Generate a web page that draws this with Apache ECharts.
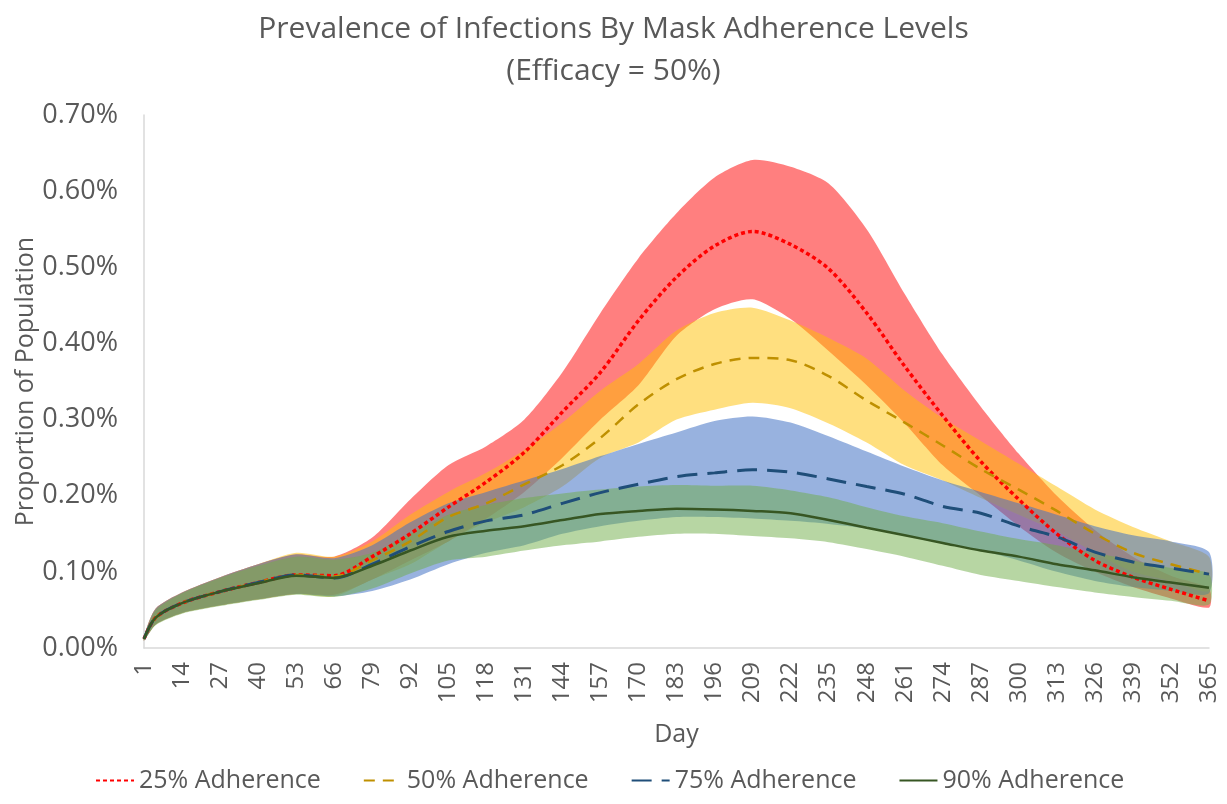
<!DOCTYPE html>
<html>
<head>
<meta charset="utf-8">
<script src="https://cdn.jsdelivr.net/npm/echarts@6/dist/echarts.min.js"></script>
<style>
  html, body { margin: 0; padding: 0; background: #fff; }
  #chart { width: 1227px; height: 804px; }
</style>
</head>
<body>
<div id="chart"></div>
<script>
// sampled days (x) and tick labels
const days = [1, 5, 14, 27, 40, 53, 66, 79, 92, 105, 118, 131, 144, 157, 170, 183, 196, 209, 222, 235, 248, 261, 274, 287, 300, 313, 326, 339, 352, 365]
const dayTicks = [1, 14, 27, 40, 53, 66, 79, 92, 105, 118, 131, 144, 157, 170, 183, 196, 209, 222, 235, 248, 261, 274, 287, 300, 313, 326, 339, 352, 365]

// values in percent of population
const mean25 = [0.012, 0.040, 0.059, 0.074, 0.086, 0.096, 0.095, 0.120, 0.150, 0.185, 0.218, 0.257, 0.310, 0.362, 0.430, 0.487, 0.528, 0.547, 0.530, 0.498, 0.440, 0.370, 0.305, 0.245, 0.195, 0.150, 0.115, 0.093, 0.077, 0.062]
const high25 = [0.016, 0.052, 0.073, 0.093, 0.110, 0.123, 0.120, 0.145, 0.195, 0.240, 0.265, 0.300, 0.362, 0.440, 0.512, 0.571, 0.618, 0.641, 0.632, 0.610, 0.550, 0.465, 0.385, 0.317, 0.255, 0.200, 0.155, 0.120, 0.095, 0.078]
const low25 = [0.010, 0.031, 0.046, 0.056, 0.064, 0.071, 0.070, 0.090, 0.115, 0.140, 0.170, 0.205, 0.250, 0.300, 0.345, 0.410, 0.445, 0.458, 0.432, 0.390, 0.345, 0.295, 0.240, 0.200, 0.160, 0.125, 0.100, 0.080, 0.065, 0.053]

const mean50 = [0.012, 0.040, 0.059, 0.074, 0.086, 0.096, 0.094, 0.115, 0.140, 0.172, 0.190, 0.215, 0.240, 0.276, 0.320, 0.353, 0.373, 0.381, 0.378, 0.357, 0.325, 0.296, 0.266, 0.235, 0.208, 0.180, 0.150, 0.125, 0.110, 0.097]
const high50 = [0.016, 0.052, 0.073, 0.093, 0.110, 0.125, 0.120, 0.140, 0.175, 0.205, 0.230, 0.260, 0.296, 0.338, 0.373, 0.417, 0.440, 0.447, 0.430, 0.407, 0.380, 0.338, 0.302, 0.272, 0.242, 0.212, 0.182, 0.159, 0.140, 0.120]
const low50 = [0.010, 0.031, 0.046, 0.056, 0.064, 0.071, 0.068, 0.090, 0.110, 0.140, 0.165, 0.185, 0.212, 0.250, 0.270, 0.300, 0.313, 0.322, 0.315, 0.295, 0.270, 0.240, 0.220, 0.197, 0.175, 0.153, 0.125, 0.100, 0.088, 0.075]

const mean75 = [0.012, 0.040, 0.059, 0.074, 0.086, 0.096, 0.092, 0.110, 0.133, 0.153, 0.167, 0.175, 0.190, 0.204, 0.215, 0.225, 0.230, 0.234, 0.231, 0.222, 0.212, 0.202, 0.186, 0.177, 0.160, 0.146, 0.126, 0.113, 0.105, 0.097]
const high75 = [0.016, 0.052, 0.073, 0.093, 0.110, 0.123, 0.118, 0.135, 0.165, 0.190, 0.205, 0.220, 0.235, 0.252, 0.268, 0.283, 0.298, 0.304, 0.296, 0.278, 0.258, 0.238, 0.220, 0.205, 0.190, 0.175, 0.160, 0.148, 0.140, 0.126]
const low75 = [0.010, 0.031, 0.046, 0.056, 0.064, 0.071, 0.068, 0.075, 0.090, 0.110, 0.125, 0.135, 0.150, 0.160, 0.167, 0.172, 0.172, 0.170, 0.167, 0.163, 0.157, 0.148, 0.138, 0.128, 0.115, 0.100, 0.088, 0.080, 0.075, 0.072]

const mean90 = [0.012, 0.040, 0.059, 0.074, 0.085, 0.095, 0.092, 0.108, 0.128, 0.146, 0.154, 0.160, 0.168, 0.176, 0.180, 0.183, 0.182, 0.180, 0.177, 0.168, 0.158, 0.148, 0.138, 0.128, 0.120, 0.110, 0.102, 0.093, 0.086, 0.079]
const high90 = [0.016, 0.050, 0.072, 0.092, 0.108, 0.120, 0.116, 0.125, 0.150, 0.175, 0.188, 0.197, 0.203, 0.208, 0.212, 0.214, 0.213, 0.213, 0.207, 0.198, 0.185, 0.173, 0.164, 0.153, 0.143, 0.135, 0.125, 0.115, 0.105, 0.097]
const low90 = [0.010, 0.030, 0.045, 0.055, 0.063, 0.070, 0.067, 0.078, 0.098, 0.115, 0.120, 0.128, 0.135, 0.140, 0.146, 0.150, 0.150, 0.147, 0.144, 0.139, 0.130, 0.120, 0.108, 0.096, 0.088, 0.080, 0.073, 0.067, 0.062, 0.057]

const FONT = 'Open Sans'
const GREY = '#595959'

const pairs = (vals) => days.map((d, i) => [d, vals[i]])

// shaded range between low and high, drawn as one polygon through the axes
function band(hi, lo, fill) {
  return {
    type: 'custom',
    silent: true,
    data: [[days[0], hi[0]]],
    encode: { x: 0, y: 1 },
    renderItem: (params, api) => {
      const top = days.map((d, i) => api.coord([d, hi[i]]))
      const bottom = days.map((d, i) => api.coord([d, lo[i]])).reverse()
      return {
        type: 'polygon',
        shape: { points: top.concat(bottom), smooth: 0.25 },
        style: { fill: fill },
      }
    },
  }
}

function meanLine(name, vals, color, type, width) {
  return {
    name: name, type: 'line', data: pairs(vals), smooth: 0.3, symbol: 'none',
    lineStyle: { color: color, type: type, width: width },
    itemStyle: { color: color },
  }
}

const chart = echarts.init(document.getElementById('chart'))
chart.setOption({
  animation: false,
  title: {
    text: 'Prevalence of Infections By Mask Adherence Levels\n(Efficacy = 50%)',
    left: 'center',
    top: 3,
    textStyle: { fontFamily: FONT, fontSize: 30, fontWeight: 'normal', color: GREY, lineHeight: 42 },
  },
  grid: { left: 144, right: 18, top: 115, bottom: 156, outerBoundsMode: 'none' },
  legend: {
    bottom: 6,
    left: 90,
    data: ['25% Adherence', '50% Adherence', '75% Adherence', '90% Adherence'],
    itemWidth: 38,
    itemHeight: 10,
    itemGap: 42,
    itemStyle: { opacity: 0 },
    textStyle: { fontFamily: FONT, fontSize: 25, color: GREY },
  },
  xAxis: {
    type: 'value',
    min: 1,
    max: 365,
    name: 'Day',
    nameLocation: 'middle',
    nameGap: 74,
    nameMoveOverlap: false,
    nameTextStyle: { fontFamily: FONT, fontSize: 25, color: GREY },
    splitLine: { show: false },
    axisLine: { lineStyle: { color: '#D9D9D9', width: 1.5 } },
    axisTick: { show: false },
    axisLabel: {
      customValues: dayTicks,
      rotate: 90,
      margin: 14,
      fontFamily: FONT, fontSize: 24, color: GREY,
    },
  },
  yAxis: {
    type: 'value',
    min: 0,
    max: 0.7,
    interval: 0.1,
    name: 'Proportion of Population',
    nameLocation: 'middle',
    nameGap: 106,
    nameMoveOverlap: false,
    nameTextStyle: { fontFamily: FONT, fontSize: 25, color: GREY },
    splitLine: { show: false },
    axisLine: { show: true, lineStyle: { color: '#D9D9D9', width: 1.5 } },
    axisTick: { show: false },
    axisLabel: {
      margin: 26,
      fontFamily: FONT, fontSize: 27, color: GREY,
      formatter: (v) => v.toFixed(2) + '%',
    },
  },
  series: [
    band(high25, low25, 'rgba(255, 0, 0, 0.5)'),
    band(high50, low50, 'rgba(255, 192, 0, 0.5)'),
    band(high75, low75, 'rgba(68, 114, 196, 0.55)'),
    band(high90, low90, 'rgba(112, 173, 71, 0.5)'),
    meanLine('25% Adherence', mean25, '#FF0000', [4, 3], 3.5),
    meanLine('50% Adherence', mean50, '#BF9000', [11, 8], 2.5),
    meanLine('75% Adherence', mean75, '#1F4E79', [20, 10], 3),
    meanLine('90% Adherence', mean90, '#375623', 'solid', 2.5),
  ],
})
</script>
</body>
</html>
